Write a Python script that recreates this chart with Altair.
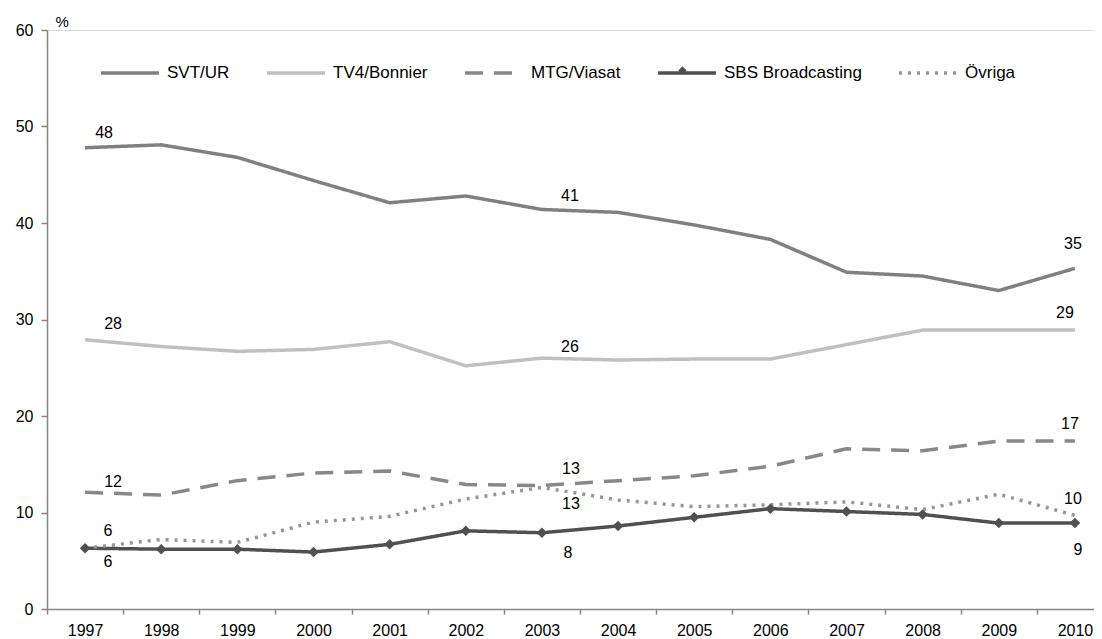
import altair as alt
import pandas as pd

years = [str(y) for y in range(1997, 2011)]
series = ["SVT/UR", "TV4/Bonnier", "MTG/Viasat", "SBS Broadcasting", "Övriga"]
svt = [47.8, 48.1, 46.8, 44.4, 42.1, 42.8, 41.4, 41.1, 39.8, 38.3, 34.9, 34.5, 33.0, 35.3]
tv4 = [27.9, 27.2, 26.7, 26.9, 27.7, 25.2, 26.0, 25.8, 25.9, 25.9, 27.4, 28.9, 28.9, 28.9]
mtg = [12.1, 11.8, 13.3, 14.1, 14.3, 12.9, 12.8, 13.3, 13.8, 14.8, 16.6, 16.4, 17.4, 17.4]
sbs = [6.3, 6.2, 6.2, 5.9, 6.7, 8.1, 7.9, 8.6, 9.5, 10.4, 10.1, 9.8, 8.9, 8.9]
ovr = [6.3, 7.2, 6.9, 9.0, 9.6, 11.4, 12.6, 11.3, 10.6, 10.8, 11.1, 10.3, 11.9, 9.7]

label_series = ["SVT/UR", "SVT/UR", "SVT/UR",
                "TV4/Bonnier", "TV4/Bonnier", "TV4/Bonnier",
                "MTG/Viasat", "MTG/Viasat", "MTG/Viasat",
                "Övriga", "Övriga", "Övriga",
                "SBS Broadcasting", "SBS Broadcasting", "SBS Broadcasting"]
label_years = ["1997", "2003", "2010"] * 5
label_texts = ["48", "41", "35", "28", "26", "29", "12", "13", "17",
               "6", "13", "10", "6", "8", "9"]

# label offsets (dx, dy) in pixels — styling only
label_offsets = [(19, -15), (28, -13), (-2, -24),
                 (28, -16), (28, -11), (-10, -17),
                 (28, -10), (29, -16), (-5, -17),
                 (23, -17), (29, 17), (-2, -16),
                 (23, 14), (26, 20), (3, 27)]

values = {"SVT/UR": svt, "TV4/Bonnier": tv4, "MTG/Viasat": mtg,
          "SBS Broadcasting": sbs, "Övriga": ovr}

rows = []
for s in series:
    for y, v in zip(years, values[s]):
        rows.append({"year": y, "series": s, "value": v,
                     "marker": s if s == "SBS Broadcasting" else None})
df = pd.DataFrame(rows)

colors = ["#808080", "#c0c0c0", "#888888", "#505050", "#969696"]
dashes = [[1, 0], [1, 0], [18, 11], [1, 0], [3, 6]]

FONT = "Liberation Sans"
AX = "#868686"

x_enc = alt.X("year:O",
              scale=alt.Scale(type="band", paddingInner=0, paddingOuter=0, range=[0, 1066]),
              axis=alt.Axis(title=None, tickBand="extent", labelAngle=0, labelFontSize=16,
                            labelFont=FONT, labelColor="#000000", domainColor=AX,
                            tickColor=AX, tickSize=5, labelPadding=8, domainWidth=1.5,
                            tickWidth=1.5, grid=False))
y_enc = alt.Y("value:Q",
              scale=alt.Scale(domain=[0, 60], nice=False, zero=True),
              axis=alt.Axis(title="%", titleAngle=0, titleX=8, titleY=-9, titleAlign="left",
                            titleBaseline="middle", titleFontWeight="normal", titleFontSize=15,
                            titleFont=FONT, titleColor="#000000",
                            values=[0, 10, 20, 30, 40, 50, 60], labelFontSize=16, labelFont=FONT,
                            labelColor="#000000", domainColor=AX, tickColor=AX,
                            tickSize=6, labelPadding=8, domainWidth=1.5, tickWidth=1.5, grid=False))

legend_common = dict(title=None, orient="none", legendX=52, legendY=12,
                     direction="horizontal", columns=5, columnPadding=30,
                     symbolType="stroke", symbolSize=3364, symbolStrokeWidth=3.5,
                     labelFontSize=17, labelFont=FONT, labelColor="#000000",
                     labelOffset=6, padding=0)

lines = alt.Chart(df).mark_line(strokeWidth=3.5, strokeJoin="round").encode(
    x=x_enc,
    y=y_enc,
    color=alt.Color("series:N", scale=alt.Scale(domain=series, range=colors),
                    sort=series, legend=alt.Legend(**legend_common)),
    strokeDash=alt.StrokeDash("series:N", scale=alt.Scale(domain=series, range=dashes),
                              sort=series, legend=alt.Legend(**legend_common)),
)

points = alt.Chart(df).transform_filter(
    alt.datum.series == "SBS Broadcasting"
).mark_point(filled=True, size=110, opacity=1, color="#505050").encode(
    x=alt.X("year:O"),
    y=alt.Y("value:Q"),
    shape=alt.Shape("marker:N",
                    scale=alt.Scale(domain=["SBS Broadcasting"], range=["diamond"]),
                    legend=alt.Legend(title=None, orient="none", legendX=631, legendY=36,
                                      symbolSize=70, symbolFillColor="#505050",
                                      symbolStrokeColor="#505050", symbolStrokeWidth=0,
                                      labelExpr="''", labelFontSize=1, labelOffset=0,
                                      padding=0)),
)

layers = [lines, points]
for s, yr, t, (dx, dy) in zip(label_series, label_years, label_texts, label_offsets):
    v = values[s][years.index(yr)]
    ldf = pd.DataFrame({"year": [yr], "value": [v], "label": [t]})
    layers.append(
        alt.Chart(ldf).mark_text(dx=dx, dy=dy, fontSize=16, font=FONT, color="#000000",
                                 baseline="middle", align="center").encode(
            x=alt.X("year:O"), y=alt.Y("value:Q"), text="label:N")
    )

chart = alt.layer(*layers).properties(
    width=1047, height=579,
    autosize="none",
    padding={"left": 39, "top": 22, "right": 0, "bottom": 30},
).configure_view(stroke=None).configure(font=FONT, background="#ffffff")

chart.save("out.html", embed_options={"renderer": "svg", "actions": False})
